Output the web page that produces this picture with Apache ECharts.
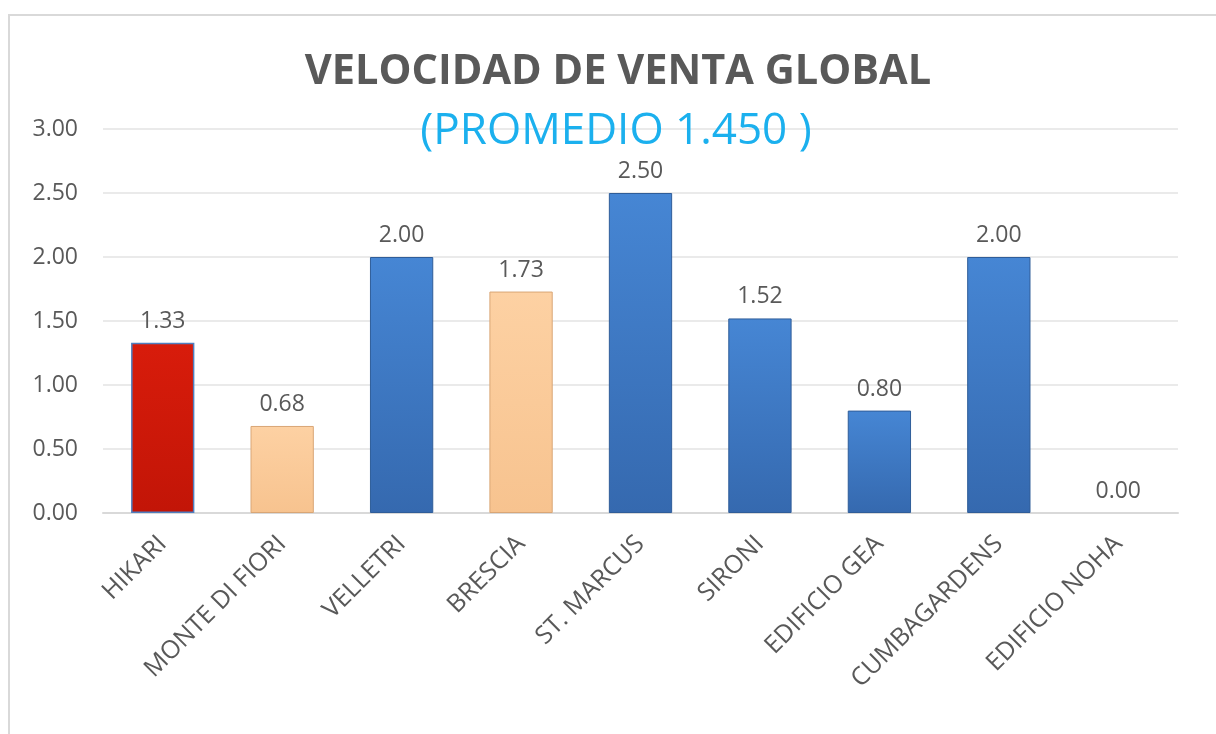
<!DOCTYPE html>
<html>
<head>
<meta charset="utf-8">
<title>Velocidad de venta global</title>
<script src="https://cdn.jsdelivr.net/npm/echarts@6/dist/echarts.min.js"></script>
<style>
  html, body { margin: 0; padding: 0; background: #fff; }
  #chart { width: 1216px; height: 734px; }
</style>
</head>
<body>
<div id="chart"></div>
<script>
// datos
var proyectos = ['HIKARI', 'MONTE DI FIORI', 'VELLETRI', 'BRESCIA', 'ST. MARCUS',
  'SIRONI', 'EDIFICIO GEA', 'CUMBAGARDENS', 'EDIFICIO NOHA'];
var velocidad = [1.33, 0.68, 2.00, 1.73, 2.50, 1.52, 0.80, 2.00, 0.00];
// tipo de barra por proyecto: r = rojo, p = durazno, b = azul
var tipos = ['r', 'p', 'b', 'p', 'b', 'b', 'b', 'b', 'b'];
var yTicks = [0, 0.5, 1, 1.5, 2, 2.5, 3];

var FONT = 'Open Sans';

function grad(top, bottom) {
  return new echarts.graphic.LinearGradient(0, 0, 0, 1, [
    { offset: 0, color: top },
    { offset: 1, color: bottom }
  ]);
}
var estilos = {
  r: { color: grad('#d81c0b', '#c21507'), borderColor: '#4f7fc0', borderWidth: 1.5 },
  p: { color: grad('#fdd1a3', '#f7c38f'), borderColor: '#d9a676', borderWidth: 1 },
  b: { color: grad('#4686d4', '#3569af'), borderColor: '#2f5d99', borderWidth: 1 }
};

var datos = velocidad.map(function (v, i) {
  // sin borde cuando el valor es cero (no se dibuja barra)
  var st = v === 0 ? { color: 'rgba(0,0,0,0)', borderWidth: 0 } : estilos[tipos[i]];
  return { value: v, itemStyle: st };
});

var myChart = echarts.init(document.getElementById('chart'));
var option = {
  backgroundColor: '#fff',
  animation: false,
  title: [
    {
      text: 'VELOCIDAD DE VENTA GLOBAL',
      left: 613, top: 46, textAlign: 'center',
      textStyle: { fontFamily: FONT, fontSize: 41.5, fontWeight: 'bold', color: '#595959' }
    },
    {
      text: '(PROMEDIO 1.450 )',
      left: 611, top: 104, textAlign: 'center',
      textStyle: { fontFamily: FONT, fontSize: 44, fontWeight: 'normal', color: '#1bb0ee' }
    }
  ],
  graphic: [
    {
      type: 'polyline', z: -1,
      shape: { points: [[9, 734], [9, 15], [1216, 15]] },
      style: { stroke: '#d9d9d9', lineWidth: 2, fill: null }
    }
  ],
  grid: { left: 103, right: 38, top: 129, bottom: 221, containLabel: false },
  xAxis: {
    type: 'category',
    data: proyectos,
    axisTick: { show: false },
    axisLine: { lineStyle: { color: '#d9d9d9', width: 2 } },
    axisLabel: {
      rotate: 45, margin: 27, interval: 0,
      fontFamily: FONT, fontSize: 25, color: '#595959'
    }
  },
  yAxis: {
    type: 'value',
    min: yTicks[0], max: yTicks[yTicks.length - 1], interval: 0.5,
    axisLine: { show: false },
    axisTick: { show: false },
    splitLine: { lineStyle: { color: '#e3e3e3', width: 1.5 } },
    axisLabel: {
      margin: 25, fontFamily: FONT, fontSize: 23, color: '#595959',
      formatter: function (v) { return v.toFixed(2); }
    }
  },
  series: [
    {
      type: 'bar',
      data: datos,
      barWidth: '53%',
      label: {
        show: true, position: 'top', distance: 10,
        fontFamily: FONT, fontSize: 23, color: '#595959',
        formatter: function (p) { return p.value.toFixed(2); }
      }
    }
  ]
};
myChart.setOption(option);
window.onresize = function () { myChart.resize(); };
</script>
</body>
</html>
